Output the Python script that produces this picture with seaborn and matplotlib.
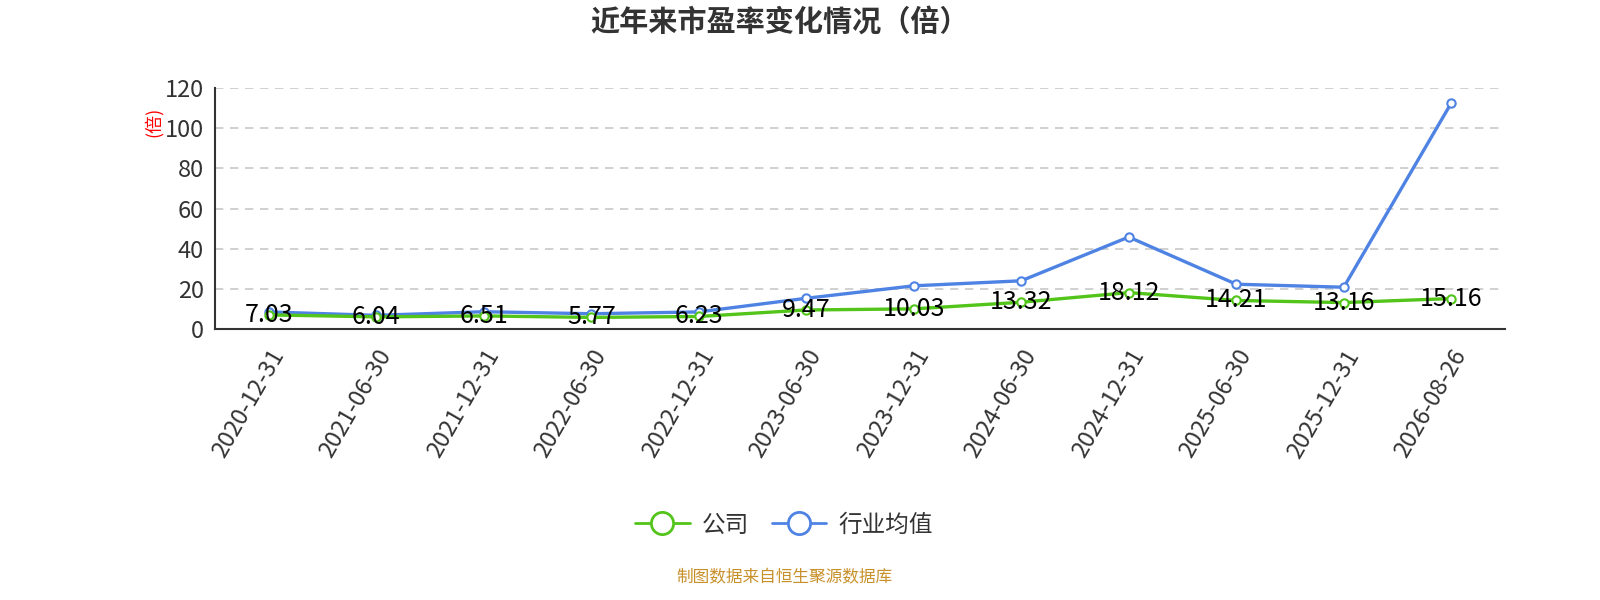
"""
市盈率变化情况 - 公司 vs 行业均值
"""

import matplotlib
matplotlib.use("Agg")
import matplotlib.pyplot as plt
from matplotlib.lines import Line2D
import seaborn as sns
import pandas as pd

# ===== 数据 =====
dates = ["2020-12-31", "2021-06-30", "2021-12-31", "2022-06-30", "2022-12-31", "2023-06-30",
         "2023-12-31", "2024-06-30", "2024-12-31", "2025-06-30", "2025-12-31", "2026-08-26"]
company_pe = [7.03, 6.04, 6.51, 5.77, 6.23, 9.47, 10.03, 13.32, 18.12, 14.21, 13.16, 15.16]
industry_pe = [8.5, 6.8, 8.6, 7.6, 8.5, 15.3, 21.5, 24.0, 45.8, 22.3, 20.8, 112.5]
y_ticks = [0, 20, 40, 60, 80, 100, 120]

GREEN = "#52c41a"
BLUE = "#4e83e4"

sns.set_style("white")
plt.rcParams['font.family'] = ['Noto Sans CJK SC', 'DejaVu Sans']

df = pd.DataFrame({"x": range(len(dates)), "公司": company_pe, "行业均值": industry_pe})

fig = plt.figure(figsize=(16, 6), dpi=100)
ax = fig.add_axes([215 / 1600, 1 - 329 / 600, 1290 / 1600, 241 / 600])

# 两条折线
for col, color in [("行业均值", BLUE), ("公司", GREEN)]:
    sns.lineplot(data=df, x="x", y=col, ax=ax, color=color, linewidth=2.4,
                 marker="o", markersize=6, markerfacecolor="white",
                 markeredgecolor=color, markeredgewidth=1.5, zorder=3 if col == "公司" else 2)

# 公司数据标签
for i, v in enumerate(company_pe):
    ax.text(i, v, f"{v:.2f}", ha="center", va="center", fontsize=18, color="black", zorder=5)

# 坐标轴
ax.set_xlim(-0.5, len(dates) - 0.5)
ax.set_ylim(0, 120)
ax.set_yticks(y_ticks)
ax.tick_params(axis="y", labelsize=17, labelcolor="#333333", length=6, width=1.2, color="#333333", pad=2)
ax.set_xticks(range(len(dates)))
ax.set_xticklabels(dates, rotation=60, ha="right", rotation_mode="anchor", fontsize=17, color="#333333")
ax.tick_params(axis="x", which="major", length=0, pad=12)
ax.set_xticks([i - 0.5 for i in range(len(dates) + 1)], minor=True)
ax.tick_params(axis="x", which="minor", length=8, width=1.2, color="#333333")

for y in y_ticks[1:]:
    ax.axhline(y, color="#c8c8c8", linestyle=(0, (5, 4)), linewidth=1.2, zorder=0)

for s in ["top", "right"]:
    ax.spines[s].set_visible(False)
for s in ["left", "bottom"]:
    ax.spines[s].set_color("#333333")
    ax.spines[s].set_linewidth(1.5)

ax.set_xlabel("")
ax.set_ylabel("")
fig.text(153 / 1600, 1 - 122 / 600, "(倍)", rotation=90, color="red", fontsize=13,
         ha="center", va="center")

# 标题
fig.text(0.487, 1 - 22 / 600, "近年来市盈率变化情况（倍）", ha="center", va="center",
         fontsize=21, fontweight="bold", color="#333333")

# 图例
handles = [
    Line2D([0], [0], color=GREEN, linewidth=2, marker="o", markersize=16,
           markerfacecolor="white", markeredgecolor=GREEN, markeredgewidth=2),
    Line2D([0], [0], color=BLUE, linewidth=2, marker="o", markersize=16,
           markerfacecolor="white", markeredgecolor=BLUE, markeredgewidth=2),
]
fig.legend(handles, ["公司", "行业均值"], loc="center", bbox_to_anchor=(0.49, 1 - 525 / 600),
           ncol=2, frameon=False, fontsize=17, handlelength=2.3, columnspacing=1.0,
           handletextpad=0.5, labelcolor="#333333")

# 数据来源
fig.text(0.49, 1 - 578 / 600, "制图数据来自恒生聚源数据库", ha="center", va="center",
         fontsize=12, color="#c8902a")

fig.savefig("out.png", dpi=100)
